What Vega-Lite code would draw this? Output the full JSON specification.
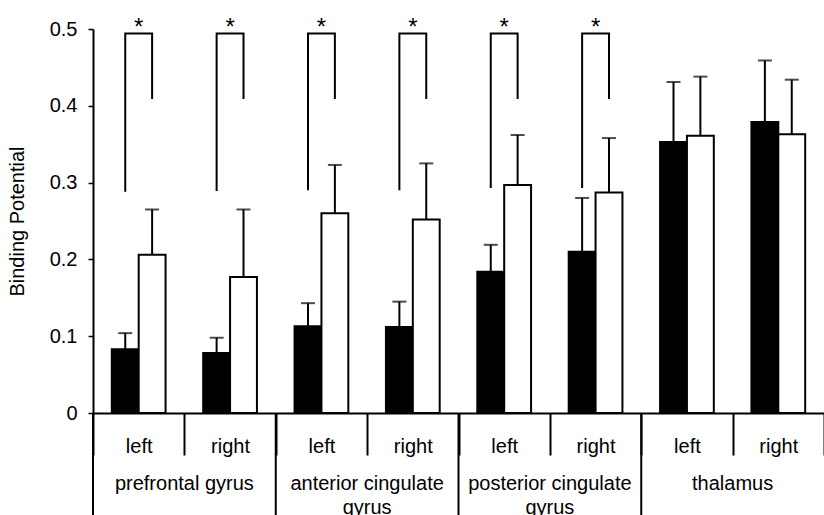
{
  "$schema": "https://vega.github.io/schema/vega-lite/v6.json",
  "autosize": "none",
  "width": 731,
  "height": 384,
  "padding": {"top": 29, "left": 93, "right": 0, "bottom": 102},
  "config": {
    "font": "Liberation Sans",
    "view": {"stroke": null},
    "axis": {"labelColor": "black", "titleColor": "black", "domainColor": "black", "tickColor": "black", "grid": false}
  },
  "datasets": {
    "bars": [
      {"slot": "PFG left", "region": "prefrontal gyrus", "group": "group 1", "mean": 0.083, "upper": 0.104},
      {"slot": "PFG left", "region": "prefrontal gyrus", "group": "group 2", "mean": 0.206, "upper": 0.265},
      {"slot": "PFG right", "region": "prefrontal gyrus", "group": "group 1", "mean": 0.078, "upper": 0.098},
      {"slot": "PFG right", "region": "prefrontal gyrus", "group": "group 2", "mean": 0.177, "upper": 0.265},
      {"slot": "ACG left", "region": "anterior cingulate gyrus", "group": "group 1", "mean": 0.113, "upper": 0.143},
      {"slot": "ACG left", "region": "anterior cingulate gyrus", "group": "group 2", "mean": 0.26, "upper": 0.323},
      {"slot": "ACG right", "region": "anterior cingulate gyrus", "group": "group 1", "mean": 0.112, "upper": 0.145},
      {"slot": "ACG right", "region": "anterior cingulate gyrus", "group": "group 2", "mean": 0.252, "upper": 0.325},
      {"slot": "PCG left", "region": "posterior cingulate gyrus", "group": "group 1", "mean": 0.184, "upper": 0.219},
      {"slot": "PCG left", "region": "posterior cingulate gyrus", "group": "group 2", "mean": 0.297, "upper": 0.362},
      {"slot": "PCG right", "region": "posterior cingulate gyrus", "group": "group 1", "mean": 0.21, "upper": 0.28},
      {"slot": "PCG right", "region": "posterior cingulate gyrus", "group": "group 2", "mean": 0.287, "upper": 0.358},
      {"slot": "THA left", "region": "thalamus", "group": "group 1", "mean": 0.353, "upper": 0.431},
      {"slot": "THA left", "region": "thalamus", "group": "group 2", "mean": 0.361, "upper": 0.438},
      {"slot": "THA right", "region": "thalamus", "group": "group 1", "mean": 0.379, "upper": 0.459},
      {"slot": "THA right", "region": "thalamus", "group": "group 2", "mean": 0.363, "upper": 0.434}
    ],
    "brackets": [
      {"slot": "PFG left", "group": "group 1", "y": 0.288, "order": 1},
      {"slot": "PFG left", "group": "group 1", "y": 0.494, "order": 2},
      {"slot": "PFG left", "group": "group 2", "y": 0.494, "order": 3},
      {"slot": "PFG left", "group": "group 2", "y": 0.409, "order": 4},
      {"slot": "PFG right", "group": "group 1", "y": 0.289, "order": 1},
      {"slot": "PFG right", "group": "group 1", "y": 0.494, "order": 2},
      {"slot": "PFG right", "group": "group 2", "y": 0.494, "order": 3},
      {"slot": "PFG right", "group": "group 2", "y": 0.409, "order": 4},
      {"slot": "ACG left", "group": "group 1", "y": 0.29, "order": 1},
      {"slot": "ACG left", "group": "group 1", "y": 0.494, "order": 2},
      {"slot": "ACG left", "group": "group 2", "y": 0.494, "order": 3},
      {"slot": "ACG left", "group": "group 2", "y": 0.409, "order": 4},
      {"slot": "ACG right", "group": "group 1", "y": 0.29, "order": 1},
      {"slot": "ACG right", "group": "group 1", "y": 0.494, "order": 2},
      {"slot": "ACG right", "group": "group 2", "y": 0.494, "order": 3},
      {"slot": "ACG right", "group": "group 2", "y": 0.409, "order": 4},
      {"slot": "PCG left", "group": "group 1", "y": 0.293, "order": 1},
      {"slot": "PCG left", "group": "group 1", "y": 0.494, "order": 2},
      {"slot": "PCG left", "group": "group 2", "y": 0.494, "order": 3},
      {"slot": "PCG left", "group": "group 2", "y": 0.409, "order": 4},
      {"slot": "PCG right", "group": "group 1", "y": 0.293, "order": 1},
      {"slot": "PCG right", "group": "group 1", "y": 0.494, "order": 2},
      {"slot": "PCG right", "group": "group 2", "y": 0.494, "order": 3},
      {"slot": "PCG right", "group": "group 2", "y": 0.409, "order": 4}
    ],
    "stars": [
      {"slot": "PFG left", "y": 0.494, "label": "*"},
      {"slot": "PFG right", "y": 0.494, "label": "*"},
      {"slot": "ACG left", "y": 0.494, "label": "*"},
      {"slot": "ACG right", "y": 0.494, "label": "*"},
      {"slot": "PCG left", "y": 0.494, "label": "*"},
      {"slot": "PCG right", "y": 0.494, "label": "*"}
    ],
    "regions": [
      {"region": "prefrontal gyrus", "slot": "PFG left"},
      {"region": "anterior cingulate\ngyrus", "slot": "ACG left"},
      {"region": "posterior cingulate\ngyrus", "slot": "PCG left"},
      {"region": "thalamus", "slot": "THA left"}
    ]
  },
  "encoding": {
    "x": {
      "field": "slot", "type": "nominal", "title": null,
      "scale": {"domain": ["PFG left", "PFG right", "ACG left", "ACG right", "PCG left", "PCG right", "THA left", "THA right"], "paddingInner": 0, "paddingOuter": 0},
      "axis": {"orient": "bottom", "labelExpr": "split(datum.value, ' ')[1]", "labelAngle": 0, "labelFontSize": 20, "labelPadding": -19, "tickBand": "extent", "tickSize": 42, "tickWidth": 2, "domainWidth": 2}
    }
  },
  "layer": [
    {
      "data": {"name": "bars"},
      "mark": {"type": "bar", "stroke": "black", "strokeWidth": 2},
      "encoding": {
        "xOffset": {"field": "group", "type": "nominal", "scale": {"domain": ["group 1", "group 2"], "paddingOuter": 0.7, "paddingInner": 0}},
        "y": {
          "field": "mean", "type": "quantitative", "title": "Binding Potential",
          "scale": {"domain": [0, 0.5], "nice": false},
          "axis": {
            "values": [0, 0.05, 0.1, 0.15, 0.2, 0.25, 0.3, 0.35, 0.4, 0.45, 0.5],
            "labelExpr": "round(datum.value * 100) % 10 == 0 ? (datum.value == 0 ? '0' : format(datum.value, '.1f')) : ''",
            "labelFontSize": 20, "labelPadding": 11, "tickSize": 5, "tickWidth": 1.5, "domainWidth": 2,
            "titleFontSize": 20, "titleFontWeight": "normal", "titlePadding": 22
          }
        },
        "fill": {"field": "group", "type": "nominal", "scale": {"domain": ["group 1", "group 2"], "range": ["black", "white"]}, "legend": null}
      }
    },
    {
      "data": {"name": "bars"},
      "mark": {"type": "rule", "color": "black", "strokeWidth": 2},
      "encoding": {
        "xOffset": {"field": "group", "type": "nominal"},
        "y": {"field": "mean", "type": "quantitative", "title": "Binding Potential"},
        "y2": {"field": "upper"}
      }
    },
    {
      "data": {"name": "bars"},
      "mark": {"type": "tick", "color": "black", "thickness": 2, "size": 14},
      "encoding": {
        "xOffset": {"field": "group", "type": "nominal"},
        "y": {"field": "upper", "type": "quantitative", "title": "Binding Potential"}
      }
    },
    {
      "data": {"name": "brackets"},
      "mark": {"type": "line", "color": "black", "strokeWidth": 2},
      "encoding": {
        "xOffset": {"field": "group", "type": "nominal"},
        "y": {"field": "y", "type": "quantitative", "title": "Binding Potential"},
        "order": {"field": "order", "type": "quantitative"},
        "detail": {"field": "slot"}
      }
    },
    {
      "data": {"name": "stars"},
      "mark": {"type": "text", "fontSize": 24, "baseline": "bottom", "dy": 6, "color": "black"},
      "encoding": {
        "y": {"field": "y", "type": "quantitative", "title": "Binding Potential"},
        "text": {"field": "label"}
      }
    },
    {
      "data": {"name": "regions"},
      "mark": {"type": "rule", "color": "black", "strokeWidth": 2},
      "encoding": {
        "x": {
          "field": "slot", "type": "nominal", "title": null, "bandPosition": 0,
          "scale": {"domain": ["PFG left", "PFG right", "ACG left", "ACG right", "PCG left", "PCG right", "THA left", "THA right"], "paddingInner": 0, "paddingOuter": 0},
          "axis": {"orient": "bottom", "labelExpr": "split(datum.value, ' ')[1]", "labelAngle": 0, "labelFontSize": 20, "labelPadding": -19, "tickBand": "extent", "tickSize": 42, "tickWidth": 2, "domainWidth": 2}
        },
        "y": {"datum": 0, "type": "quantitative", "title": "Binding Potential"},
        "y2": {"datum": -0.134}
      }
    },
    {
      "data": {"name": "regions"},
      "mark": {"type": "text", "fontSize": 20, "baseline": "top", "align": "center", "lineBreak": "\n", "lineHeight": 24, "color": "black"},
      "encoding": {
        "x": {
          "field": "slot", "type": "nominal", "title": null, "bandPosition": 1,
          "scale": {"domain": ["PFG left", "PFG right", "ACG left", "ACG right", "PCG left", "PCG right", "THA left", "THA right"], "paddingInner": 0, "paddingOuter": 0},
          "axis": {"orient": "bottom", "labelExpr": "split(datum.value, ' ')[1]", "labelAngle": 0, "labelFontSize": 20, "labelPadding": -19, "tickBand": "extent", "tickSize": 42, "tickWidth": 2, "domainWidth": 2}
        },
        "y": {"datum": -0.079, "type": "quantitative", "title": "Binding Potential"},
        "text": {"field": "region"}
      }
    }
  ]
}
